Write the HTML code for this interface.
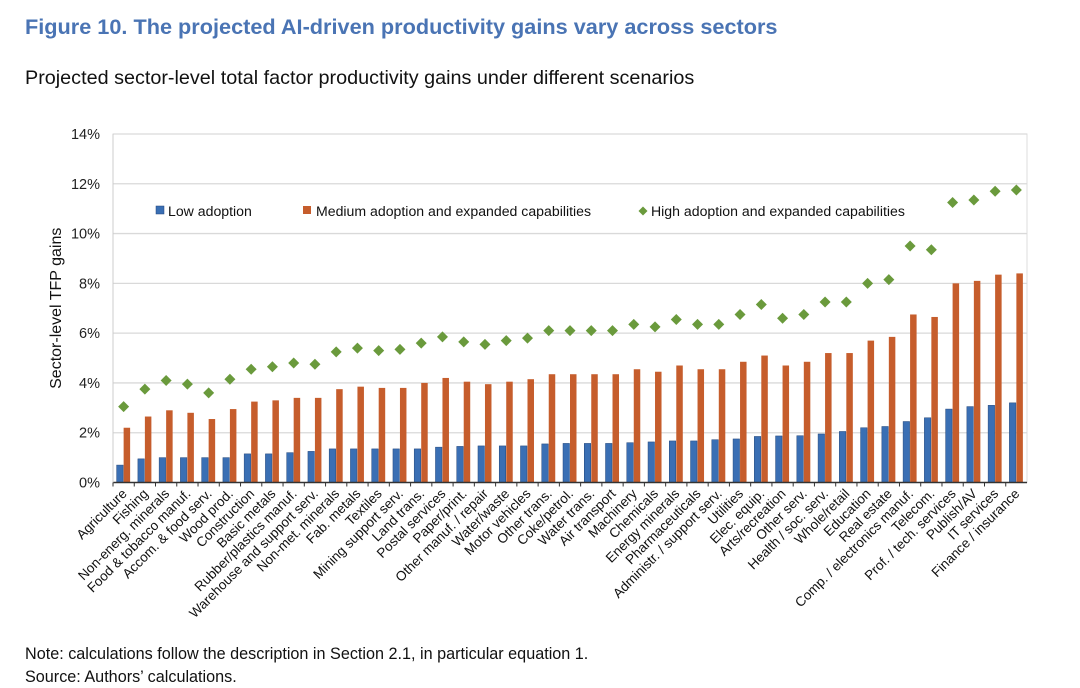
<!DOCTYPE html>
<html><head><meta charset="utf-8">
<style>
body{margin:0;background:#fff;width:1080px;height:688px;overflow:hidden;font-family:"Liberation Sans",Arial,sans-serif;}
svg{display:block}
</style></head>
<body>
<svg id="chart" width="1080" height="688" font-family="Liberation Sans, Arial, sans-serif">
<text x="25" y="34" font-size="21.7" font-weight="bold" fill="#4a74b4">Figure 10. The projected AI-driven productivity gains vary across sectors</text>
<text x="25" y="84" font-size="19.8" fill="#111">Projected sector-level total factor productivity gains under different scenarios</text>
<text x="25" y="659" font-size="16.2" fill="#111">Note: calculations follow the description in Section 2.1, in particular equation 1.</text>
<text x="25" y="682" font-size="16.2" fill="#111">Source: Authors’ calculations.</text>
<g id="plot"></g>
</svg>
<script>
const categories=["Agriculture","Fishing","Non-energ. minerals","Food & tobacco manuf.","Accom. & food serv.","Wood prod.","Construction","Basic metals","Rubber/plastics manuf.","Warehouse and support serv.","Non-met. minerals","Fab. metals","Textiles","Mining support serv.","Land trans.","Postal services","Paper/print.","Other manuf. / repair","Water/waste","Motor vehicles","Other trans.","Coke/petrol.","Water trans.","Air transport","Machinery","Chemicals","Energy minerals","Pharmaceuticals","Administr. / support serv.","Utilities","Elec. equip.","Arts/recreation","Other serv.","Health / soc. serv.","Whole/retail","Education","Real estate","Comp. / electronics manuf.","Telecom.","Prof. / tech. services","Publish/AV","IT services","Finance / insurance"];
const lowAdoption=[0.7,0.95,1.0,1.0,1.0,1.0,1.15,1.15,1.2,1.25,1.35,1.35,1.35,1.35,1.35,1.42,1.45,1.47,1.47,1.47,1.55,1.57,1.57,1.57,1.6,1.63,1.67,1.67,1.72,1.75,1.85,1.87,1.88,1.95,2.05,2.2,2.25,2.45,2.6,2.95,3.05,3.1,3.2];
const mediumAdoption=[2.2,2.65,2.9,2.8,2.55,2.95,3.25,3.3,3.4,3.4,3.75,3.85,3.8,3.8,4.0,4.2,4.05,3.95,4.05,4.15,4.35,4.35,4.35,4.35,4.55,4.45,4.7,4.55,4.55,4.85,5.1,4.7,4.85,5.2,5.2,5.7,5.85,6.75,6.65,8.0,8.1,8.35,8.4];
const highAdoption=[3.05,3.75,4.1,3.95,3.6,4.15,4.55,4.65,4.8,4.75,5.25,5.4,5.3,5.35,5.6,5.85,5.65,5.55,5.7,5.8,6.1,6.1,6.1,6.1,6.35,6.25,6.55,6.35,6.35,6.75,7.15,6.6,6.75,7.25,7.25,8.0,8.15,9.5,9.35,11.25,11.35,11.7,11.75];
const yTicks=[0,2,4,6,8,10,12,14];
const legendLabels=["Low adoption","Medium adoption and expanded capabilities","High adoption and expanded capabilities"];

const NS="http://www.w3.org/2000/svg";
const g=document.getElementById('plot');
const X0=113,X1=1027,Y0=482.5,Y1=134,YMAX=14;
const bw=(X1-X0)/categories.length;
const y=v=>Y0-(v/YMAX)*(Y0-Y1);
const xc=i=>X0+bw*(i+0.5);
function el(t,a,p){const e=document.createElementNS(NS,t);for(const k in a)e.setAttribute(k,a[k]);(p||g).appendChild(e);return e;}

el('rect',{x:X0,y:Y1,width:X1-X0,height:Y0-Y1,fill:'none',stroke:'#ddd','stroke-width':1});
yTicks.forEach(t=>{
  if(t>0){const l=el('line',{x1:X0,x2:X1,y1:y(t),y2:y(t),stroke:'#d9d9d9','stroke-width':1.3});
  
  }
  const tx=el('text',{x:X0-13,y:y(t)+5,'font-size':14.5,'text-anchor':'end',fill:'#222'});
  tx.textContent=t+'%';
  
  
});
const yt=el('text',{x:0,y:0,'font-size':16,'text-anchor':'middle',fill:'#111',transform:`translate(61,${(Y0+Y1)/2}) rotate(-90)`});
yt.textContent='Sector-level TFP gains';



categories.forEach((c,i)=>{
  const cx=xc(i);
  const b1=el('rect',{x:cx-7,y:y(lowAdoption[i]),width:6.5,height:Y0-y(lowAdoption[i]),fill:'#3a6fb4',stroke:'#24477a','stroke-width':0.5});
  
  
  const b2=el('rect',{x:cx,y:y(mediumAdoption[i]),width:6.5,height:Y0-y(mediumAdoption[i]),fill:'#c65d2c'});
  
  
  const yy=y(highAdoption[i]);
  const d=el('polygon',{points:`${cx},${yy-5.5} ${cx+5.5},${yy} ${cx},${yy+5.5} ${cx-5.5},${yy}`,fill:'#6a9a3c'});
  
  
  const tk=el('line',{x1:X0+bw*i,x2:X0+bw*i,y1:Y0,y2:Y0+4,stroke:'#333'});
  
  
  const lb=el('text',{x:0,y:0,'font-size':13.5,'text-anchor':'end',fill:'#111',transform:`translate(${cx+4},${Y0+12}) rotate(-45)`});
  lb.textContent=c;
  
  
});
const ax=el('line',{x1:X0,x2:X1,y1:Y0,y2:Y0,stroke:'#333','stroke-width':1.5});


const yax=el('line',{x1:X0,x2:X0,y1:Y1,y2:Y0,stroke:'#ccc','stroke-width':1});



const LY=211;
const lg=el('g',{});


const s1=el('rect',{x:156,y:LY-5,width:8,height:8,fill:'#3a6fb4',stroke:'#24477a','stroke-width':0.5},lg);


const t1=el('text',{x:168,y:LY+5,'font-size':14.1,fill:'#111'},lg);t1.textContent=legendLabels[0];


const s2=el('rect',{x:303,y:LY-5,width:8,height:8,fill:'#c65d2c'},lg);


const t2=el('text',{x:316,y:LY+5,'font-size':14.1,fill:'#111'},lg);t2.textContent=legendLabels[1];


const s3=el('polygon',{points:`643,${LY-4.5} 647.5,${LY} 643,${LY+4.5} 638.5,${LY}`,fill:'#6a9a3c'},lg);


const t3=el('text',{x:651,y:LY+5,'font-size':14.1,fill:'#111'},lg);t3.textContent=legendLabels[2];


</script>
</body></html>
